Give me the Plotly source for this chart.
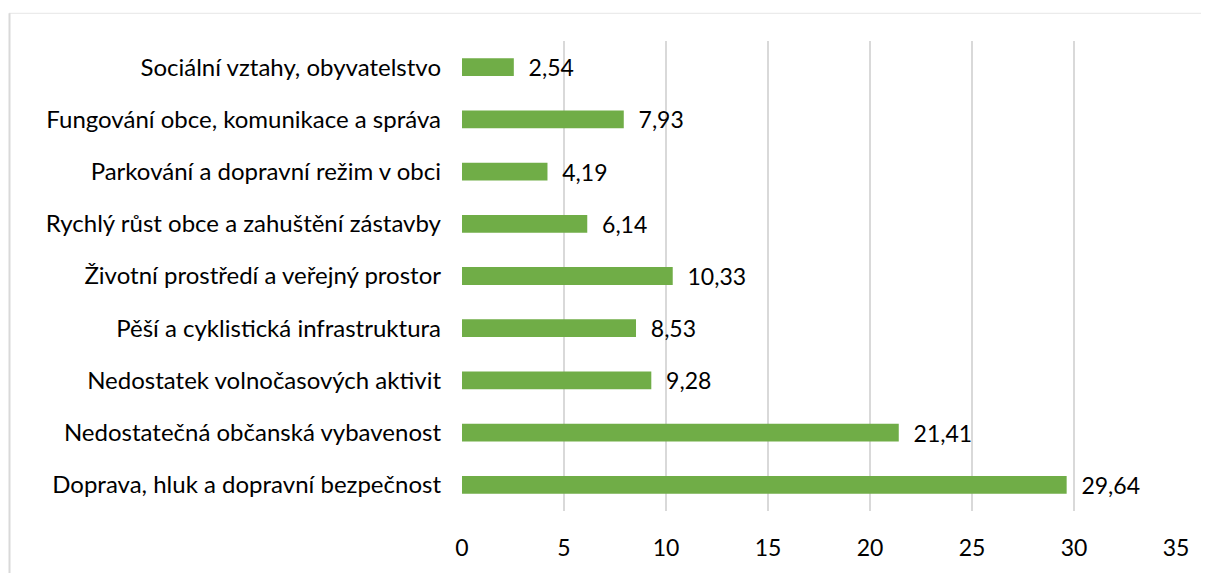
import plotly.graph_objects as go

categories = [
    "Doprava, hluk a dopravní bezpečnost",
    "Nedostatečná občanská vybavenost",
    "Nedostatek volnočasových aktivit",
    "Pěší a cyklistická infrastruktura",
    "Životní prostředí a veřejný prostor",
    "Rychlý růst obce a zahuštění zástavby",
    "Parkování a dopravní režim v obci",
    "Fungování obce, komunikace a správa",
    "Sociální vztahy, obyvatelstvo",
]
values = [29.64, 21.41, 9.28, 8.53, 10.33, 6.14, 4.19, 7.93, 2.54]
labels = ["  " + f"{v:.2f}".replace(".", ",") for v in values]
x_ticks = [0, 5, 10, 15, 20, 25, 30, 35]

# page body has an 8px margin; target pixel coords are in screenshot space
OFF = 8
W, H = 1209 - OFF, 573 - OFF
L, R, T, B = 462 - OFF, 1176 - OFF, 41 - OFF, 516 - OFF

FONT = "Lato, Open Sans, sans-serif"
FS = 23

fig = go.Figure(go.Bar(
    x=values, y=categories, orientation="h",
    marker=dict(color="#70ad47", line=dict(width=0)),
    width=0.34,
    text=labels, textposition="outside", constraintext="none",
    textfont=dict(color="#000000", size=FS, family=FONT),
    cliponaxis=False,
))

def px_x(p):
    return (p - OFF - L) / (R - L)

def px_y(p):
    return (B - (p - OFF)) / (B - T)

fig.update_layout(
    width=W, height=H,
    margin=dict(l=L, r=W - R, t=T, b=H - B, pad=0),
    paper_bgcolor="white", plot_bgcolor="white",
    font=dict(family=FONT, size=FS, color="#000000"),
    showlegend=False,
    xaxis=dict(
        range=[0, 35], tickvals=x_ticks, ticktext=[str(t) for t in x_ticks],
        showgrid=True, gridcolor="#d9d9d9", gridwidth=1.5,
        zeroline=False, showline=False, ticks="",
        tickfont=dict(size=FS), ticklabelstandoff=21, fixedrange=True,
    ),
    yaxis=dict(
        showgrid=False, zeroline=False, showline=False, ticks="",
        tickfont=dict(size=24), ticklabelstandoff=20,
    ),
    shapes=[
        dict(type="line", xref="paper", yref="paper",
             x0=px_x(9), x1=px_x(1215), y0=px_y(13), y1=px_y(13),
             line=dict(color="#e6e6e6", width=1)),
        dict(type="line", xref="paper", yref="paper",
             x0=px_x(9.5), x1=px_x(9.5), y0=px_y(13), y1=px_y(580),
             line=dict(color="#d9d9d9", width=2)),
    ],
)

fig.write_html("out.html")
